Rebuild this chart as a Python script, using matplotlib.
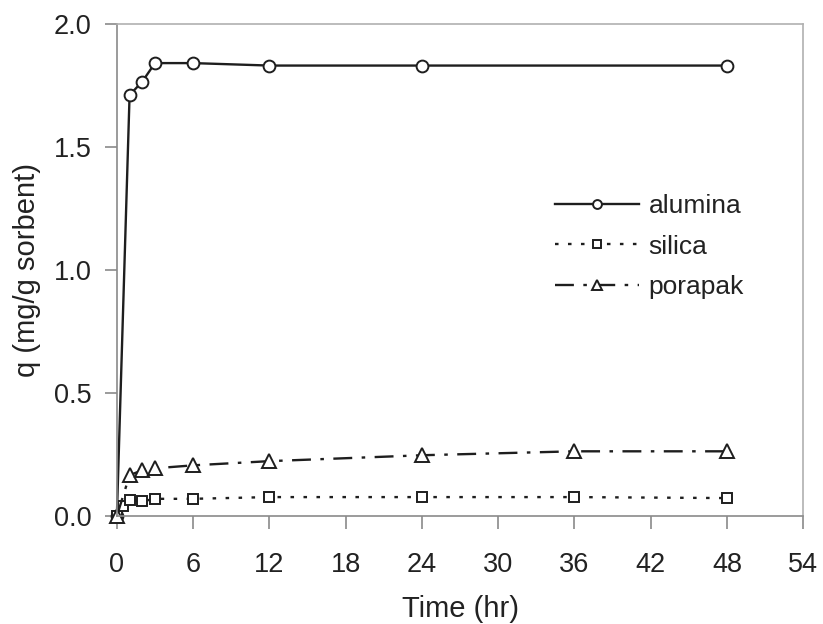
import numpy as np
import matplotlib
matplotlib.use("Agg")
import matplotlib.pyplot as plt

plt.rcParams['font.family'] = ['Liberation Sans', 'DejaVu Sans']

# sorption data
t_alumina = [0, 1, 2, 3, 6, 12, 24, 48]
q_alumina = [0.0, 1.71, 1.765, 1.84, 1.84, 1.83, 1.83, 1.83]

t_silica = [0, 0.5, 1, 2, 3, 6, 12, 24, 36, 48]
q_silica = [0.0, 0.04, 0.065, 0.06, 0.07, 0.07, 0.077, 0.077, 0.077, 0.073]

t_porapak = [0, 1, 2, 3, 6, 12, 24, 36, 48]
q_porapak = [0.0, 0.166, 0.186, 0.194, 0.206, 0.223, 0.247, 0.263, 0.263]

xticks = [0, 6, 12, 18, 24, 30, 36, 42, 48, 54]
yticks = [0.0, 0.5, 1.0, 1.5, 2.0]

fig = plt.figure(figsize=(8.23, 6.24), dpi=100)
ax = fig.add_axes([0.142, 0.173, 0.834, 0.789])

ink = '#1e1e1e'
ax.plot(t_alumina, q_alumina, '-', color=ink, lw=1.7, marker='o', ms=8.5,
        mfc='white', mec=ink, mew=1.4, label='alumina', clip_on=False)
ax.plot(t_silica, q_silica, color=ink, lw=1.7, dashes=(1.5, 4), marker='s', ms=7.5,
        mfc='white', mec=ink, mew=1.4, label='silica', clip_on=False)
ax.plot(t_porapak, q_porapak, color=ink, lw=1.7, dashes=(8, 4, 1.5, 4), marker='^', ms=9.5,
        mfc='white', mec=ink, mew=1.4, label='porapak', clip_on=False)

ax.set_xlim(0, 54)
ax.set_ylim(0, 2.0)
ax.set_xticks(xticks)
ax.set_yticks(yticks)
ax.set_yticklabels(['%.1f' % v for v in yticks])

for s in ax.spines.values():
    s.set_color('#b0b0b0')
    s.set_linewidth(1.2)
ax.spines['left'].set_color('#8a8a8a')
ax.spines['bottom'].set_color('#8a8a8a')
ax.tick_params(direction='out', length=9, width=1.2, color='#8a8a8a',
               labelsize=19.5, labelcolor='#222222')
ax.tick_params(axis='x', pad=17)
ax.tick_params(axis='y', pad=9)

ax.set_xlabel('Time (hr)', fontsize=21, color='#222222', labelpad=12)
ax.set_ylabel('q (mg/g sorbent)', fontsize=21, color='#222222', labelpad=9)

ax.legend(loc='upper left', bbox_to_anchor=(0.623, 0.675), frameon=False,
          fontsize=19, handlelength=3.2, handletextpad=0.35, labelspacing=0.62,
          labelcolor='#222222', borderaxespad=0, markerscale=0.75)

fig.savefig('out.png', dpi=100)
